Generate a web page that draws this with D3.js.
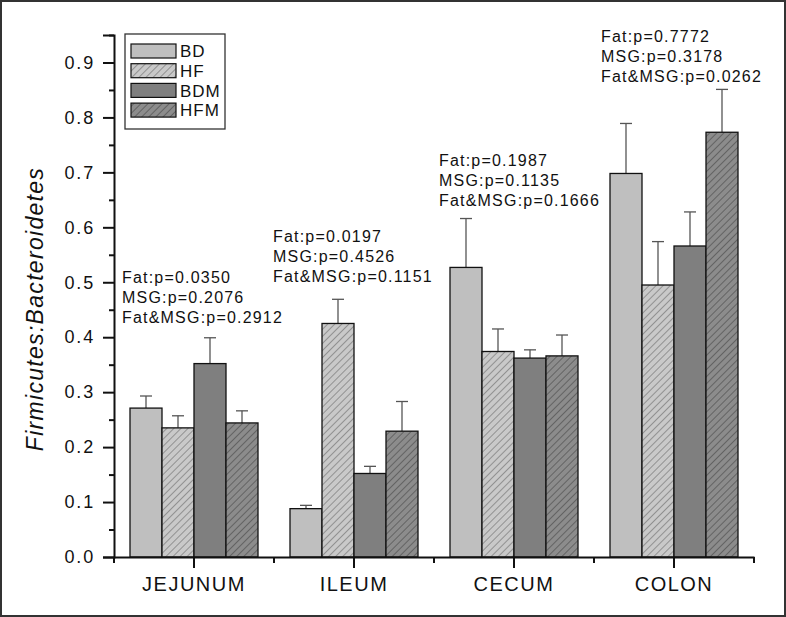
<!DOCTYPE html>
<html>
<head>
<meta charset="utf-8">
<script src="https://cdn.jsdelivr.net/npm/d3@7"></script>
<style>
  body { margin: 0; background: #fff; }
  svg text { font-family: "Liberation Sans", Arial, sans-serif; fill: #111; }
</style>
</head>
<body>
<div class="chart-holder"></div>
<script>
// Data
const categories = ["JEJUNUM", "ILEUM", "CECUM", "COLON"];
const groups = ["BD", "HF", "BDM", "HFM"];

const bd_values = [0.271, 0.088, 0.527, 0.698];
const bd_err = [0.022, 0.006, 0.089, 0.091];
const hf_values = [0.235, 0.425, 0.374, 0.495];
const hf_err = [0.022, 0.044, 0.041, 0.079];
const bdm_values = [0.352, 0.152, 0.362, 0.566];
const bdm_err = [0.047, 0.013, 0.015, 0.062];
const hfm_values = [0.244, 0.229, 0.366, 0.773];
const hfm_err = [0.022, 0.054, 0.038, 0.078];

const p_fat = ["0.0350", "0.0197", "0.1987", "0.7772"];
const p_msg = ["0.2076", "0.4526", "0.1135", "0.3178"];
const p_both = ["0.2912", "0.1151", "0.1666", "0.0262"];

const y_ticks = [0.0, 0.1, 0.2, 0.3, 0.4, 0.5, 0.6, 0.7, 0.8, 0.9];

// Layout
const width = 786;
const height = 617;
const margin = { top: 35, right: 32, bottom: 60, left: 114 };
const plot_w = width - margin.left - margin.right;
const plot_h = height - margin.top - margin.bottom;

// where each p-value block sits: offset from band start (px), first baseline (data units)
const annot_dx = [8, -1, 5, 7];
const annot_y = [0.4986, 0.574, 0.712, 0.938];

const series = [
  { name: "BD", values: bd_values, err: bd_err, fill: "#bfbfbf" },
  { name: "HF", values: hf_values, err: hf_err, fill: "url(#hatch-light)" },
  { name: "BDM", values: bdm_values, err: bdm_err, fill: "#7f7f7f" },
  { name: "HFM", values: hfm_values, err: hfm_err, fill: "url(#hatch-dark)" }
];

const svg = d3.select('.chart-holder').append('svg')
  .attr('width', width)
  .attr('height', height);

// hatch patterns
const defs = svg.append('defs');
function addHatch(id, bg, line) {
  const p = defs.append('pattern')
    .attr('id', id)
    .attr('patternUnits', 'userSpaceOnUse')
    .attr('width', 5)
    .attr('height', 5)
    .attr('patternTransform', 'rotate(45)');
  p.append('rect').attr('width', 5).attr('height', 5).attr('fill', bg);
  p.append('line')
    .attr('x1', 0).attr('y1', 0).attr('x2', 0).attr('y2', 5)
    .attr('stroke', line).attr('stroke-width', 1);
}
addHatch('hatch-light', '#c9c9c9', '#5a5a5a');
addHatch('hatch-dark', '#8c8c8c', '#3a3a3a');

// outer frame
svg.append('rect')
  .attr('x', 1).attr('y', 1)
  .attr('width', width - 2).attr('height', height - 2)
  .attr('fill', 'none')
  .attr('stroke', '#333')
  .attr('stroke-width', 2);

const g = svg.append('g')
  .attr('transform', 'translate(' + margin.left + ',' + margin.top + ')');

// Scales
const xScale = d3.scaleBand()
  .domain(categories)
  .range([0, plot_w])
  .paddingInner(0.2)
  .paddingOuter(0.1);

const xGroup = d3.scaleBand()
  .domain(groups)
  .range([0, xScale.bandwidth()]);

const yScale = d3.scaleLinear()
  .domain([0, 0.95])
  .range([plot_h, 0]);

// Bars + error bars
series.forEach(s => {
  const sg = g.append('g');
  categories.forEach((c, i) => {
    const x0 = xScale(c) + xGroup(s.name);
    const bw = xGroup.bandwidth();
    const top = s.values[i] + s.err[i];
    const cx = x0 + bw / 2;
    // error bar (upper only)
    sg.append('line')
      .attr('x1', cx).attr('x2', cx)
      .attr('y1', yScale(s.values[i])).attr('y2', yScale(top))
      .attr('stroke', '#555').attr('stroke-width', 1.3);
    sg.append('line')
      .attr('x1', cx - 6).attr('x2', cx + 6)
      .attr('y1', yScale(top)).attr('y2', yScale(top))
      .attr('stroke', '#555').attr('stroke-width', 1.3);
    sg.append('rect')
      .attr('x', x0)
      .attr('y', yScale(s.values[i]))
      .attr('width', bw)
      .attr('height', plot_h - yScale(s.values[i]))
      .attr('fill', s.fill)
      .attr('stroke', '#111')
      .attr('stroke-width', 1.3);
  });
});

// Y axis: major + minor ticks
const yAxis = g.append('g')
  .call(d3.axisLeft(yScale).tickValues(y_ticks).tickSize(11).tickPadding(8).tickFormat(d3.format('.1f')));
yAxis.select('.domain').attr('stroke', '#111').attr('stroke-width', 2);
yAxis.selectAll('.tick line').attr('stroke', '#111').attr('stroke-width', 2);
yAxis.selectAll('.tick text')
  .style('font-size', '18px')
  .style('letter-spacing', '1.8px')
  .attr('fill', '#111');

const yMinor = g.append('g')
  .call(d3.axisLeft(yScale).tickValues(y_ticks.map(d => d + 0.05)).tickSize(5).tickFormat(''));
yMinor.select('.domain').remove();
yMinor.selectAll('.tick line').attr('stroke', '#111').attr('stroke-width', 2);

// X axis: ticks at category centres, minor ticks at boundaries
const xAxis = g.append('g')
  .attr('transform', 'translate(0,' + plot_h + ')')
  .call(d3.axisBottom(xScale).tickSize(11).tickPadding(9).tickSizeOuter(0));
xAxis.select('.domain').attr('stroke', '#111').attr('stroke-width', 2);
xAxis.selectAll('.tick line').attr('stroke', '#111').attr('stroke-width', 2);
xAxis.selectAll('.tick text')
  .style('font-size', '20px')
  .style('letter-spacing', '1.5px')
  .attr('fill', '#111');

const step = xScale.step();
const boundaries = d3.range(categories.length + 1).map(i => i * step);
g.append('g')
  .attr('transform', 'translate(0,' + plot_h + ')')
  .selectAll('line')
  .data(boundaries)
  .enter().append('line')
  .attr('x1', d => d).attr('x2', d => d)
  .attr('y1', 0).attr('y2', 6)
  .attr('stroke', '#111').attr('stroke-width', 2);

// Y axis title
svg.append('text')
  .attr('transform', 'translate(43,309) rotate(-90)')
  .attr('text-anchor', 'middle')
  .style('font-size', '23px')
  .style('font-style', 'italic')
  .style('letter-spacing', '1.3px')
  .text('Firmicutes:Bacteroidetes');

// p-value annotations
categories.forEach((c, i) => {
  const lines = ['Fat:p=' + p_fat[i], 'MSG:p=' + p_msg[i], 'Fat&MSG:p=' + p_both[i]];
  const tx = xScale(c) - xScale.step() * 0.1 + annot_dx[i];
  const t = g.append('text')
    .attr('x', tx)
    .attr('y', yScale(annot_y[i]))
    .style('font-size', '16px')
    .style('letter-spacing', '1.2px');
  lines.forEach((l, k) => {
    t.append('tspan')
      .attr('x', tx)
      .attr('dy', k === 0 ? 0 : 20)
      .text(l);
  });
});

// Legend
const legend = svg.append('g')
  .attr('transform', 'translate(125,34)');
legend.append('rect')
  .attr('width', 100)
  .attr('height', 95)
  .attr('fill', '#fff')
  .attr('stroke', '#333')
  .attr('stroke-width', 1.3);

series.forEach((s, i) => {
  legend.append('rect')
    .attr('x', 6)
    .attr('y', 10 + i * 19.7)
    .attr('width', 45)
    .attr('height', 14)
    .attr('fill', s.fill)
    .attr('stroke', '#111')
    .attr('stroke-width', 1.2);
  legend.append('text')
    .attr('x', 55)
    .attr('y', 17 + i * 19.7)
    .attr('dy', '0.36em')
    .style('font-size', '17px')
    .style('letter-spacing', '1px')
    .text(s.name);
});
</script>
</body>
</html>
